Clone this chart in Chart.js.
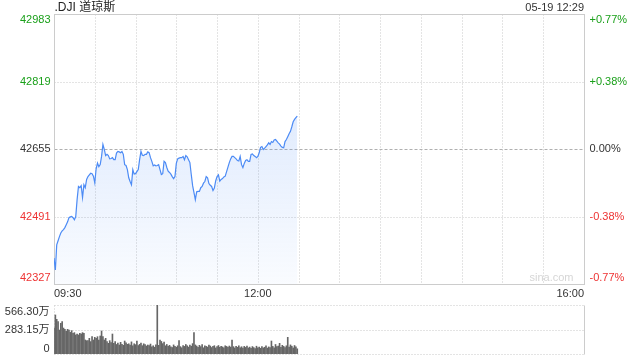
<!DOCTYPE html>
<html><head><meta charset="utf-8">
<script src="https://cdn.jsdelivr.net/npm/chart.js@4"></script>
<style>
html,body{margin:0;padding:0;background:#fff;}
#wrap{position:relative;width:640px;height:360px;overflow:hidden;}
#c1{position:absolute;left:0;top:0;}
#c2{position:absolute;left:0;top:300px;}
</style></head><body>
<div id="wrap">
<canvas id="c1" width="640" height="300"></canvas>
<canvas id="c2" width="640" height="60"></canvas>
</div>
<script>
const titleText = '.DJI 道琼斯';
const dateText = '05-19 12:29';
const timeLabels = ['09:30', '12:00', '16:00'];
const timeLabelPos = [0, 150, 390];
const priceTicks = [42327, 42491, 42655, 42819, 42983];
const pctTicks = ['-0.77%', '-0.38%', '0.00%', '+0.38%', '+0.77%'];
const volTicks = [0, 283.15, 566.30];
const volTickLabels = ['0', '283.15万', '566.30万'];

const prices = [
42390,42361,42422,42432,42442,42451,42456,42459,42464,42471,
42478,42488,42490,42491,42488,42483,42491,42532,42564,42561,
42566,42537,42568,42561,42581,42588,42592,42596,42595,42589,
42573,42607,42621,42612,42617,42637,42666,42654,42639,42642,
42639,42631,42632,42634,42629,42629,42645,42649,42648,42646,
42649,42642,42617,42615,42605,42585,42576,42568,42605,42594,
42595,42600,42605,42629,42649,42640,42639,42642,42642,42648,
42646,42634,42625,42614,42616,42614,42615,42617,42605,42593,
42595,42625,42622,42610,42601,42598,42594,42588,42583,42588,
42620,42631,42633,42634,42634,42637,42629,42639,42636,42629,
42622,42593,42566,42549,42532,42551,42552,42552,42561,42564,
42572,42576,42588,42585,42571,42567,42564,42554,42560,42578,
42588,42592,42577,42581,42583,42587,42589,42600,42611,42622,
42631,42637,42637,42634,42631,42627,42626,42637,42617,42610,
42620,42627,42629,42625,42625,42642,42643,42639,42637,42634,
42637,42646,42659,42661,42654,42657,42661,42665,42670,42666,
42673,42671,42677,42678,42674,42670,42667,42662,42659,42658,
42673,42678,42685,42692,42698,42709,42721,42727,42731,42735
];

const volumes = [
300,451,401,374,277,355,374,300,285,262,
285,277,250,270,239,247,220,231,220,239,
231,247,239,162,154,154,181,143,200,162,
193,181,200,162,208,266,200,162,181,143,
123,154,131,231,123,143,110,125,104,135,
112,100,150,128,112,118,104,140,95,118,
108,150,98,112,125,96,118,110,92,104,
98,115,84,95,78,105,566,100,160,145,
120,138,95,110,88,100,82,75,105,90,
78,95,154,85,72,98,88,110,95,80,
102,90,120,247,105,92,78,100,85,110,
72,95,88,80,102,92,75,88,96,70,
85,98,78,90,82,72,95,88,76,92,
80,162,85,70,90,78,95,72,84,68,
88,76,92,70,80,65,86,74,62,90,
72,80,66,85,70,78,95,68,82,75,
150,88,72,110,85,92,123,78,100,88,
75,95,193,80,105,90,70,98,82,60
];

const FONT = '"Liberation Sans", Arial, "Noto Sans CJK SC", sans-serif';
const GREEN = '#1aa01a', RED = '#ee3333', DARK = '#333333';
const FRAME = '#cccccc';
function tickColor(i){ return i > 2 ? GREEN : (i < 2 ? RED : DARK); }

function dotted(ctx, x1, y1, x2, y2, color, dash){
  ctx.save();
  ctx.strokeStyle = color; ctx.lineWidth = 1;
  ctx.setLineDash(dash);
  ctx.beginPath(); ctx.moveTo(x1, y1); ctx.lineTo(x2, y2); ctx.stroke();
  ctx.restore();
}

const mainDecor = {
  id: 'mainDecor',
  beforeDatasetsDraw(chart){
    const {ctx, chartArea: a, scales: {x, y}} = chart;
    const L = Math.round(a.left) + 0.5, R = Math.round(a.right) + 0.5;
    const T = Math.round(a.top) + 0.5, B = Math.round(a.bottom) + 0.5;
    for (let m = 30; m < 390; m += 30){
      const px = Math.round(x.getPixelForValue(m)) + 0.5;
      dotted(ctx, px, T, px, B, '#c8c8c8', [1, 2]);
    }
    for (let i = 1; i < priceTicks.length - 1; i++){
      const py = Math.round(y.getPixelForValue(priceTicks[i])) + 0.5;
      if (i === 2) dotted(ctx, L, py, R, py, '#b0b0b0', [3, 2]);
      else dotted(ctx, L, py, R, py, '#c8c8c8', [1, 2]);
    }
    ctx.save();
    ctx.strokeStyle = FRAME; ctx.lineWidth = 1;
    ctx.strokeRect(L, T, R - L, B - T);
    ctx.restore();
  },
  afterDraw(chart){
    const {ctx, chartArea: a, scales: {x, y}} = chart;
    ctx.save();
    ctx.font = '11px ' + FONT;
    ctx.textBaseline = 'middle';
    priceTicks.forEach((v, i) => {
      let py = y.getPixelForValue(v);
      if (i === 0) py -= 6.5;
      if (i === priceTicks.length - 1) py += 5.5;
      ctx.fillStyle = tickColor(i);
      ctx.textAlign = 'right';
      ctx.fillText(String(v), a.left - 3.5, py);
      ctx.textAlign = 'left';
      ctx.fillText(pctTicks[i], a.right + 5.5, py);
    });
    ctx.fillStyle = DARK;
    timeLabels.forEach((t, i) => {
      const px = x.getPixelForValue(timeLabelPos[i]);
      ctx.textAlign = i === 0 ? 'left' : (i === timeLabels.length - 1 ? 'right' : 'center');
      ctx.fillText(t, px, 293.5);
    });
    ctx.textAlign = 'right';
    ctx.fillText(dateText, a.right, 7.5);
    ctx.fillStyle = '#d6d6d6';
    ctx.fillText('sina.com', a.right - 10.5, 278);
    ctx.font = '12px ' + FONT;
    ctx.fillStyle = '#222';
    ctx.textAlign = 'left';
    ctx.fillText(titleText, a.left + 0.5, 7.5);
    ctx.restore();
  }
};

new Chart(document.getElementById('c1'), {
  type: 'line',
  data: {
    datasets: [{
      data: prices.map((v, i) => ({x: i, y: v})),
      borderColor: '#4c8bf5',
      borderWidth: 1.2,
      pointRadius: 0,
      tension: 0,
      fill: 'start',
      backgroundColor(context){
        const c = context.chart; const a = c.chartArea;
        if (!a) return 'rgba(76,139,245,0.1)';
        const g = c.ctx.createLinearGradient(0, a.top + 100, 0, a.bottom);
        g.addColorStop(0, 'rgba(76,139,245,0.17)');
        g.addColorStop(1, 'rgba(76,139,245,0.03)');
        return g;
      }
    }]
  },
  options: {
    responsive: false, animation: false, devicePixelRatio: 1,
    layout: {padding: {left: 54, right: 56, top: 14, bottom: 16}},
    plugins: {legend: {display: false}, tooltip: {enabled: false}},
    scales: {
      x: {type: 'linear', min: 0, max: 390, display: false},
      y: {type: 'linear', min: priceTicks[0], max: priceTicks[priceTicks.length - 1], display: false}
    }
  },
  plugins: [mainDecor]
});

const volDecor = {
  id: 'volDecor',
  beforeDatasetsDraw(chart){
    const {ctx, chartArea: a, scales: {y}} = chart;
    const L = Math.round(a.left) + 0.5, R = Math.round(a.right) + 0.5;
    volTicks.forEach(v => {
      const py = Math.round(y.getPixelForValue(v)) + 0.5;
      dotted(ctx, L, py, R, py, '#c8c8c8', [1, 2]);
    });
    const T = Math.round(y.getPixelForValue(volTicks[2])) + 0.5;
    const B = Math.round(y.getPixelForValue(0)) + 0.5;
    dotted(ctx, L, T, L, B, '#c8c8c8', [1, 2]);
    ctx.save();
    ctx.strokeStyle = FRAME; ctx.lineWidth = 1;
    ctx.beginPath(); ctx.moveTo(R, T); ctx.lineTo(R, B); ctx.stroke();
    ctx.restore();
  },
  afterDraw(chart){
    const {ctx, chartArea: a, scales: {y}} = chart;
    ctx.save();
    ctx.font = '11px ' + FONT;
    ctx.textBaseline = 'middle';
    ctx.textAlign = 'right';
    ctx.fillStyle = DARK;
    volTicks.forEach((v, i) => {
      let py = y.getPixelForValue(v);
      if (i === 0) py -= 5;
      if (i === volTicks.length - 1) py += 6.5;
      ctx.fillText(volTickLabels[i], a.left - 4.5, py);
    });
    ctx.restore();
  }
};

new Chart(document.getElementById('c2'), {
  type: 'bar',
  data: {
    datasets: [{
      data: volumes.map((v, i) => ({x: i, y: v})),
      backgroundColor: '#666666',
      barThickness: 1,
      borderWidth: 0
    }]
  },
  options: {
    responsive: false, animation: false, devicePixelRatio: 1,
    layout: {padding: {left: 54, right: 56, top: 5, bottom: 6}},
    plugins: {legend: {display: false}, tooltip: {enabled: false}},
    scales: {
      x: {type: 'linear', min: 0, max: 390, offset: false, display: false},
      y: {type: 'linear', min: 0, max: volTicks[2], display: false}
    }
  },
  plugins: [volDecor]
});
</script>
</body></html>
